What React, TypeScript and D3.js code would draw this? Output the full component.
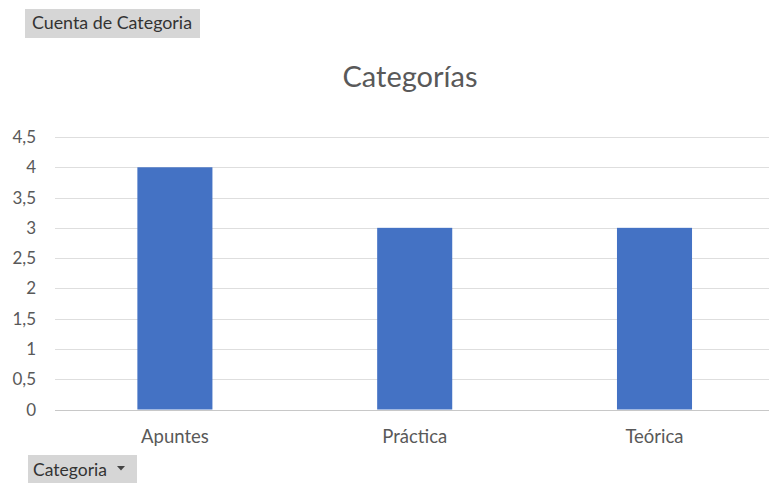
import React from "react";
import * as d3 from "d3";

const categories = ["Apuntes", "Práctica", "Teórica"];
const counts = [4, 3, 3];
const yTicks = [0, 0.5, 1, 1.5, 2, 2.5, 3, 3.5, 4, 4.5];
const title = "Categorías";
const fieldButton = "Cuenta de Categoria";
const axisButton = "Categoria";

const W = 769;
const H = 486;
const FONT = "Lato, 'Open Sans', sans-serif";

export default function App() {
  const x = d3
    .scaleBand<string>()
    .domain(categories)
    .range([55, 774.4])
    .paddingInner(0.687)
    .paddingOuter(0.3435);
  const y = d3.scaleLinear().domain([0, 4.5]).range([409.5, 137]);
  const fmt = (v: number) => String(v).replace(".", ",");

  return (
    <svg
      width={W}
      height={H}
      style={{ position: "absolute", left: 0, top: 0, background: "#fff" }}
      fontFamily={FONT}
    >
      <rect x={0} y={0} width={W} height={H} fill="#fff" />
      {/* top field button */}
      <rect x={25} y={9} width={175} height={29} fill="#d6d6d6" />
      <text x={32} y={29} fontSize={17} fill="#333" textLength={160} lengthAdjust="spacingAndGlyphs">{fieldButton}</text>

      {/* title */}
      <text x={410} y={87} fontSize={29} fill="#595959" textAnchor="middle">{title}</text>

      {/* gridlines */}
      {yTicks.map((t) => (
        <line
          key={t}
          x1={55}
          x2={W}
          y1={Math.round(y(t)) + 0.5}
          y2={Math.round(y(t)) + 0.5}
          stroke={t === 0 ? "#c8c8c8" : "#dedede"}
          strokeWidth={1.2}
        />
      ))}
      {yTicks.map((t) => (
        <text
          key={"l" + t}
          x={36}
          y={y(t) + 6}
          fontSize={17}
          fill="#595959"
          textAnchor="end"
        >
          {fmt(t)}
        </text>
      ))}

      {/* bars */}
      {categories.map((c, i) => (
        <rect
          key={c}
          x={x(c)}
          y={y(counts[i])}
          width={x.bandwidth()}
          height={y(0) - y(counts[i])}
          fill="#4472c4"
        />
      ))}

      {/* category labels */}
      {categories.map((c) => (
        <text
          key={"c" + c}
          x={(x(c) as number) + x.bandwidth() / 2}
          y={443}
          fontSize={18.5}
          fill="#595959"
          textAnchor="middle"
        >
          {c}
        </text>
      ))}

      {/* bottom field button */}
      <rect x={28} y={455} width={109} height={28} fill="#d6d6d6" />
      <text x={33} y={476} fontSize={17.5} fill="#333">{axisButton}</text>
      <path d="M117,466 L125,466 L121,470.5 Z" fill="#444" />
    </svg>
  );
}
